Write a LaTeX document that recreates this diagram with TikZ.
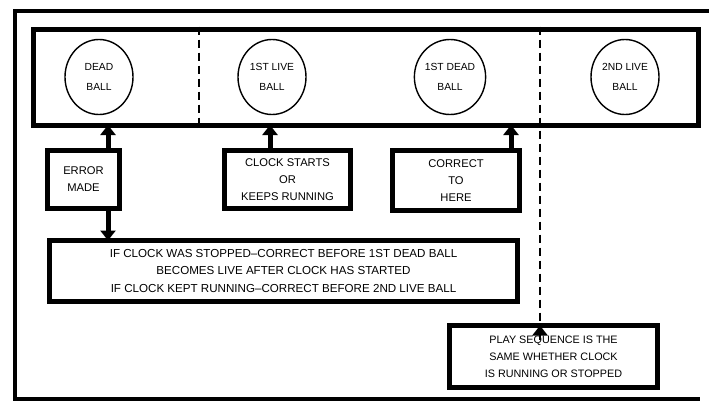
\documentclass[tikz,border=0pt]{standalone}
\usepackage{fontspec}
\setmainfont{Liberation Sans}
\usetikzlibrary{arrows.meta,shapes.geometric}
\begin{document}
\begin{tikzpicture}[x=1pt,y=-1pt,
  frame/.style={line width=4pt},
  rowbox/.style={draw,line width=5pt,inner sep=0pt},
  ball/.style={draw,ellipse,line width=1.4pt,minimum width=68pt,minimum height=75pt,
    align=center,inner sep=0pt,font=\fontsize{10.3}{19.5}\selectfont},
  txtbox/.style={draw,line width=5pt,align=center,inner sep=0pt,
    font=\fontsize{11.2}{17}\selectfont},
  arr/.style={line width=5pt,-{Triangle[width=15pt,length=10pt]}},
  dashline/.style={line width=2.5pt,dash pattern=on 8pt off 5pt}
]
\useasboundingbox (0,0) rectangle (709,402);
% outer frame
\draw[frame] (709,11) -- (14.5,11) -- (14.5,399) -- (700,399);
% top row
\node[rowbox,minimum width=665pt,minimum height=96pt] (row) at (365.5,77) {};
\node[ball] (dead) at (99,77) {DEAD\\BALL};
\node[ball] (live1) at (272,77) {1ST LIVE\\BALL};
\node[ball] (dead1) at (450,77) {1ST DEAD\\BALL};
\node[ball] (live2) at (625,77) {2ND LIVE\\BALL};
% boxes
\node[txtbox,minimum width=72pt,minimum height=58pt] (err) at (83.5,179.5) {ERROR\\MADE};
\node[txtbox,minimum width=126pt,minimum height=58pt] (clk) at (287.5,179.5) {CLOCK STARTS\\OR\\KEEPS RUNNING};
\node[txtbox,minimum width=127pt,minimum height=60pt] (cor) at (456,180.5) {CORRECT\\TO\\HERE};
\node[txtbox,minimum width=468pt,minimum height=61pt,font=\fontsize{11.6}{17.5}\selectfont] (big) at (283.5,271)
  {IF CLOCK WAS STOPPED–CORRECT BEFORE 1ST DEAD BALL\\BECOMES LIVE AFTER CLOCK HAS STARTED\\IF CLOCK KEPT RUNNING–CORRECT BEFORE 2ND LIVE BALL};
\node[txtbox,minimum width=208pt,minimum height=62pt,font=\fontsize{10.8}{17}\selectfont] (seq) at (553.5,356.5)
  {PLAY SEQUENCE IS THE\\SAME WHETHER CLOCK\\IS RUNNING OR STOPPED};
% arrow x positions
\coordinate (xa) at (108,0);
\coordinate (xb) at (270,0);
\coordinate (xc) at (511,0);
\coordinate (xd) at (199,0);
\coordinate (xe) at (540,0);
% arrows
\draw[arr] (err.north -| xa) -- ([yshift=2.5pt]row.south -| xa);
\draw[arr] (clk.north -| xb) -- ([yshift=2.5pt]row.south -| xb);
\draw[arr] (cor.north -| xc) -- ([yshift=2.5pt]row.south -| xc);
\draw[arr] (err.south -| xa) -- ([yshift=-2.5pt]big.north -| xa);
% dashed separators
\draw[dashline] (row.north -| xd) -- (row.south -| xd);
\draw[dashline] (row.north -| xe) -- ([yshift=-16pt]seq.north -| xe) coordinate (de);
\draw[arr,line width=2.5pt] (de) -- ([yshift=-2.5pt]seq.north -| xe);
\end{tikzpicture}
\end{document}
